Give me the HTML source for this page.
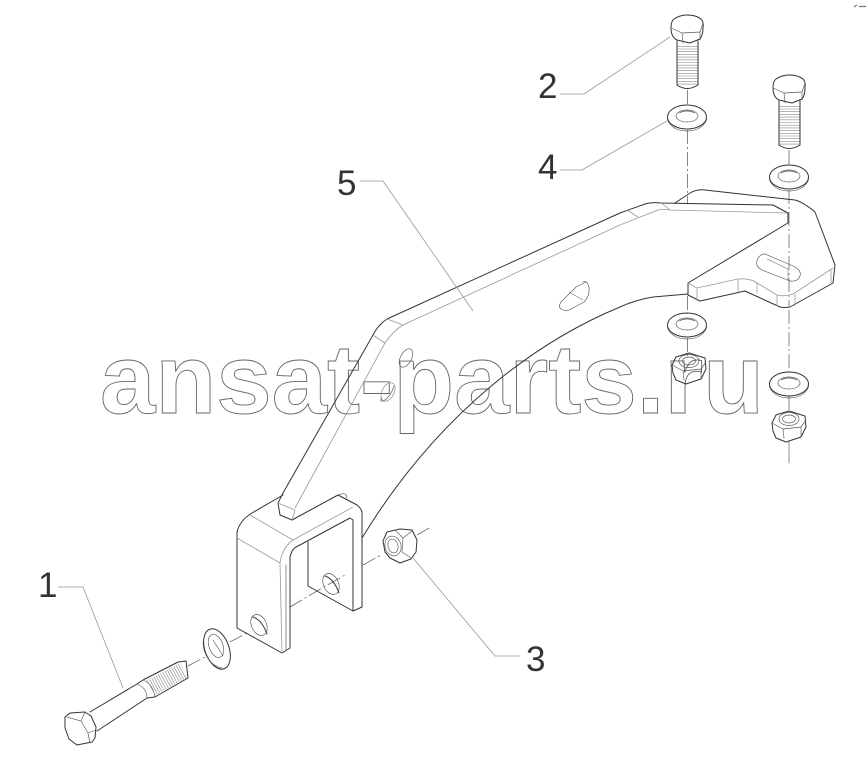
<!DOCTYPE html>
<html><head><meta charset="utf-8"><style>
html,body{margin:0;padding:0;background:#fff;width:867px;height:769px;overflow:hidden}
svg{display:block}
.d{fill:none;stroke:#333;stroke-width:1;stroke-linejoin:round;stroke-linecap:round}
.t{fill:none;stroke:#555;stroke-width:.65;stroke-linejoin:round;stroke-linecap:round}
.g{fill:none;stroke:#999;stroke-width:.8;stroke-linejoin:round}
.a{fill:none;stroke:#666;stroke-width:.8;stroke-dasharray:14 3 2 3}
.l{font-family:"Liberation Sans",sans-serif;font-size:35px;fill:#333}
.w{font-family:"Liberation Sans",sans-serif;font-weight:bold;font-size:98px;fill:none;stroke:#666;stroke-width:.9}
</style></head><body>
<svg width="867" height="769" viewBox="0 0 867 769" xmlns="http://www.w3.org/2000/svg">
<defs>
<g id="bolt">
<path class="d" d="M671 28Q671 21 674 19 680 15 687 15 696 15 701 19 704 22 703 28 703 35 700 39L690 43 677 40Q671 37 671 28Z"/>
<path class="t" d="M671 28L682 33 700 32 703 23M682 33L683 43M700 32L700 40"/>
<path class="d" d="M677 41V85Q687 92 698 85V41"/>
<line x1="687.5" y1="46" x2="687.5" y2="86" stroke="#888" stroke-width="20" stroke-dasharray=".6 2.100"/>
</g>
<g id="washer">
<ellipse class="d" cx="0" cy="0" rx="19.5" ry="12"/>
<path class="t" d="M-19.5 1V3C-16 11 -8 14 0 14S16 11 19.500 3V1"/>
<ellipse class="t" cx="0" cy="-1" rx="11" ry="6"/>
<path class="t" d="M-8-4Q0-8 8-4"/>
</g>
<g id="nut">
<path class="d" d="M-17-2L-13-10 0-14 16-9 17 2 12 12-3 17-13 13-16 6Z"/>
<path class="t" d="M-17-2L-6 4 12 2 17-5M-6 4L-5 13M12 2V11"/>
<ellipse class="t" cx="0" cy="-6" rx="10" ry="6.500"/>
<ellipse class="t" cx="0" cy="-6" rx="6.500" ry="4"/>
</g>
</defs>

<text class="w" x="100" y="413" textLength="664" lengthAdjust="spacingAndGlyphs">ansat-parts.ru</text>

<!-- axis lines -->
<path class="a" d="M687.500 90V105M687.500 130V203M687.500 296V314M687.500 338V356"/>
<path class="a" d="M789 150V165M789 190V306M789 310V372M789 396V410"/>
<path class="t" d="M789 442V463"/>
<path class="a" d="M188 666L205 657M230 642L247 633M290 607L317 591 345 575M363 565L381 555M417 535L431 527"/>

<!-- bolts & washers top -->
<use href="#bolt"/>
<use href="#bolt" transform="translate(102 60)"/>
<use href="#washer" transform="translate(687 117)"/>
<use href="#washer" transform="translate(789 177)"/>
<use href="#washer" transform="translate(687 325)"/>
<use href="#washer" transform="translate(789 384)"/>
<use href="#nut" transform="translate(789 425)"/>
<use href="#nut" transform="translate(689 367)"/>

<!-- plate / arm -->
<path class="d" d="M675 203L690 193Q697 189 705 190L795 200Q803 202 815 212L835 265 833 283 790 307Q785 308 780 307L745 291 700 301 688 295V283L788 223V213L773 205 660 203Q652 202 645 204L620 213 387 319Q378 325 373 335L283 493 278 503 280 515 292 520 338 495"/>
<path class="g" d="M620 225L658 210Q662 209 670 210L787 213M620 225L403 325Q393 331 385 343L295 508M627 210L638 217M660 202L670 210M387 319L403 325M373 335L385 343M278 503L295 510 292 520"/>
<path class="g" d="M688 283L697 288 738 279Q750 278 757 283L777 295Q785 297 793 294L833 268M697 288V301M738 279V292M757 283V293M777 295V306M795 294V306M831 270V284"/>
<path class="d" d="M688 294L653 297Q635 300 620 307C540 340 440 410 362 538"/>
<path class="t" d="M765 254L793 266Q802 270 800 276 798 282 790 281L762 270Q755 266 757 261 759 254 765 254Z"/>
<path class="g" d="M767 259L788 269V281"/>
<!-- arm slot -->
<path class="t" d="M561 302L576 287 586 282"/>
<path class="t" d="M561 302Q558 307 561 309 566 312 571 309L584 302Q590 296 589 287 587 280 583 282"/>
<path class="g" d="M569 292L583 300"/>
<ellipse class="t" cx="406" cy="358" rx="5.500" ry="10" transform="rotate(28 406 358)"/>
<ellipse class="g" cx="388" cy="392" rx="6" ry="10" transform="rotate(28 388 392)"/>
<path class="t" d="M382 398Q379 402 383 401 390 398 394 386"/>

<!-- bracket -->
<path class="d" d="M283 495L252 513Q240 520 237 532V628L282 653 290 648V557Q292 548 298 546L350 518 353 520V611L308 586V542M353 611L362 607V512Q361 508 357 505L338 495"/>
<path class="t" d="M338 495Q342 493 345 494 347 496 347 498M286 651V565"/>
<path class="g" d="M250 515L293 540 353 507M237 538L280 563Q282 548 293 540M280 563L282 653"/>
<ellipse class="t" cx="259" cy="625" rx="7.500" ry="11" transform="rotate(-25 259 625)"/>
<path class="d" d="M253 617Q262 620 267 634"/>
<ellipse class="t" cx="331" cy="584" rx="7.500" ry="11" transform="rotate(-25 331 584)"/>
<path class="d" d="M325 576Q334 579 339 593"/>

<!-- nut 3 -->
<path class="d" d="M383 541L387 532 400 529 412 530 417 540 416 552 411 559 400 563 390 558 385 552Z"/>
<ellipse class="t" cx="393" cy="546" rx="8" ry="10" transform="rotate(-15 393 546)"/>
<ellipse class="t" cx="393" cy="546" rx="5" ry="7" transform="rotate(-15 393 546)"/>
<path class="t" d="M396 531L403 538 402 552M403 538L412 531M402 552L411 558"/>

<!-- bolt 1 -->
<path class="d" d="M65 717L70 713 85 712 91 716 96 727 95 738 92 742 77 745 69 739 65 728Z"/>
<path class="t" d="M85 712L81 721 88 733 96 730M81 721L67 717M88 733L90 743"/>
<path class="d" d="M90 712L137 684 143 680 178 662 186 661 188 678 155 697 147 698 97 731"/>
<path class="t" d="M137 684Q147 688 147 698M143 680Q153 684 155 697"/>
<line x1="151" y1="688" x2="184" y2="670" stroke="#888" stroke-width="17" stroke-dasharray=".6 1.900"/>
<!-- washer 1 -->
<ellipse class="d" cx="217" cy="649" rx="12" ry="21" transform="rotate(-20 217 649)"/>
<path class="t" d="M203 642C203 655 212 667 222 668"/>
<ellipse class="t" cx="216" cy="646" rx="7" ry="12" transform="rotate(-20 216 646)"/>
<path class="t" d="M213 640L223 656"/>

<!-- leaders -->
<path class="g" d="M58 587H83L123 688"/>
<path class="g" d="M560 94H584L670 37"/>
<path class="g" d="M560 170H582L667 121"/>
<path class="g" d="M360 181H383L473 311"/>
<path class="g" d="M413 558L495 656H520"/>

<!-- labels -->
<text class="l" x="38" y="597">1</text>
<text class="l" x="538" y="98">2</text>
<text class="l" x="526" y="671">3</text>
<text class="l" x="538" y="179">4</text>
<text class="l" x="337" y="195">5</text>

<!-- tiny mark -->
<path d="M854 7L857 5M859 6.500H866" stroke="#777" stroke-width="1.200" fill="none"/>
</svg>
</body></html>
